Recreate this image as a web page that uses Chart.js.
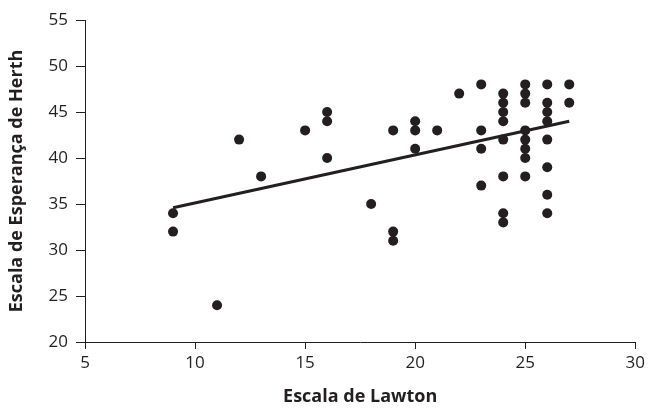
<!DOCTYPE html>
<html>
<head>
<meta charset="utf-8">
<script src="https://cdn.jsdelivr.net/npm/chart.js@4"></script>
<style>
  html, body { margin: 0; padding: 0; background: #fff; }
  #wrap { width: 649px; height: 410px; }
</style>
</head>
<body>
<div id="wrap"><canvas id="graphicHerthLawton" width="649" height="410"></canvas></div>
<script>
// Escala de Lawton (x) x Escala de Esperança de Herth (y)
const lawton = [9, 9, 11, 12, 13, 15, 16, 16, 16, 18, 19, 19, 19, 20, 20, 20, 21, 22,
  23, 23, 23, 23,
  24, 24, 24, 24, 24, 24, 24, 24,
  25, 25, 25, 25, 25, 25, 25, 25,
  26, 26, 26, 26, 26, 26, 26, 26,
  27, 27];
const herth = [34, 32, 24, 42, 38, 43, 45, 44, 40, 35, 43, 32, 31, 44, 43, 41, 43, 47,
  48, 43, 41, 37,
  47, 46, 45, 44, 42, 38, 34, 33,
  48, 47, 46, 43, 42, 41, 40, 38,
  48, 46, 45, 44, 42, 39, 36, 34,
  48, 46];

// linha de tendência (extremos)
const trendX = [9, 27];
const trendY = [34.6, 44.0];

const xTicks = [5, 10, 15, 20, 25, 30];
const yTicks = [20, 25, 30, 35, 40, 45, 50, 55];

const ink = '#231f20';

const pontos = lawton.map((x, i) => ({ x: x, y: herth[i] }));
const tendencia = trendX.map((x, i) => ({ x: x, y: trendY[i] }));

const ctx = document.getElementById('graphicHerthLawton');

new Chart(ctx, {
  type: 'scatter',
  data: {
    datasets: [{
      label: 'pontos',
      data: pontos,
      backgroundColor: ink,
      borderColor: ink,
      pointRadius: 5,
      pointBorderWidth: 0
    }, {
      type: 'line',
      label: 'tendência',
      data: tendencia,
      borderColor: ink,
      borderWidth: 3,
      pointRadius: 0,
      fill: false
    }]
  },
  options: {
    responsive: false,
    animation: false,
    layout: { padding: { top: 20, right: 12, left: 0, bottom: 0 } },
    plugins: {
      legend: { display: false },
      tooltip: { enabled: false }
    },
    scales: {
      x: {
        type: 'linear',
        min: 5,
        max: 30,
        afterBuildTicks: (s) => { s.ticks = xTicks.map(v => ({ value: v })); },
        afterFit: (s) => { s.height = 68; },
        ticks: {
          color: ink,
          padding: 4,
          font: { family: 'Open Sans', size: 17 }
        },
        grid: {
          drawOnChartArea: false,
          drawTicks: true,
          tickLength: 7,
          tickColor: ink
        },
        border: { display: true, color: ink, width: 1 },
        title: {
          display: true,
          text: 'Escala de Lawton',
          color: ink,
          padding: { top: 0, bottom: 2 },
          font: { family: 'Open Sans', size: 18, weight: 'bold' }
        }
      },
      y: {
        type: 'linear',
        min: 20,
        max: 55,
        afterBuildTicks: (s) => { s.ticks = yTicks.map(v => ({ value: v })); },
        afterFit: (s) => { s.width = 85; },
        ticks: {
          color: ink,
          padding: 8,
          font: { family: 'Open Sans', size: 17 }
        },
        grid: {
          drawOnChartArea: false,
          drawTicks: true,
          tickLength: 9,
          tickColor: ink
        },
        border: { display: true, color: ink, width: 1 },
        title: {
          display: true,
          text: 'Escala de Esperança de Herth',
          color: ink,
          padding: { top: 6, bottom: 0 },
          font: { family: 'Open Sans', size: 18, weight: 'bold' }
        }
      }
    }
  }
});
</script>
</body>
</html>
